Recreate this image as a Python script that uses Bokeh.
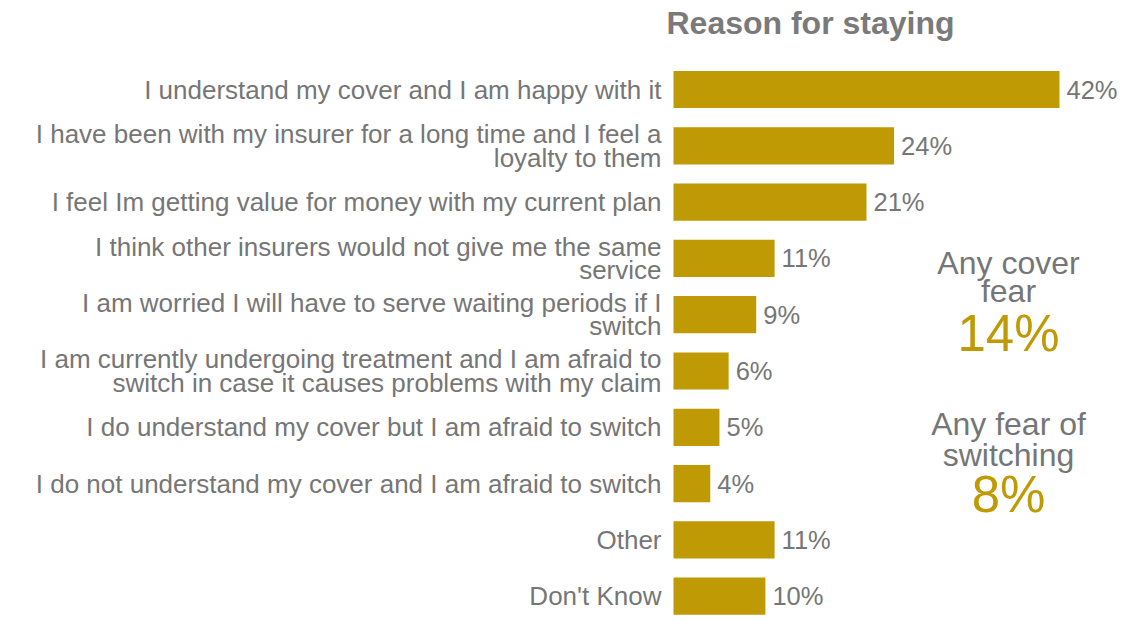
from bokeh.plotting import figure
from bokeh.models import ColumnDataSource, Range1d, Label
from bokeh.embed import file_html
from bokeh.resources import INLINE
from bokeh.core.properties import value

# ---- data ----
categories = [
    "I understand my cover and I am happy with it",
    "I have been with my insurer for a long time and I feel a\nloyalty to them",
    "I feel Im getting value for money with my current plan",
    "I think other insurers would not give me the same\nservice",
    "I am worried I will have to serve waiting periods if I\nswitch",
    "I am currently undergoing treatment and I am afraid to\nswitch in case it causes problems with my claim",
    "I do understand my cover but I am afraid to switch",
    "I do not understand my cover and I am afraid to switch",
    "Other",
    "Don't Know",
]
values = [42, 24, 21, 11, 9, 6, 5, 4, 11, 10]
chart_title = "Reason for staying"
summary_titles = [["Any cover", "fear"], ["Any fear of", "switching"]]
summary_values = ["14%", "8%"]

# ---- style ----
GOLD = "#BF9A05"
GRAY = "#767676"
FONT = "Liberation Sans"
W, H = 1140, 618
PX_PER_UNIT = 9.19
X0_PX = 673
ROW_TOP = 89
ROW_STEP = 56.3
LABEL_SIZE = 26
VALUE_SIZE = 25.5
LINE_H = 23.5

idx = list(range(len(categories)))
bars = ColumnDataSource(dict(
    y=idx, v=values, lbl=[f"{v}%" for v in values],
))

# label lines, each line drawn separately so they are right aligned
ly, lt, loff = [], [], []
for i, c in enumerate(categories):
    lines = c.split("\n")
    n = len(lines)
    for k, line in enumerate(lines):
        ly.append(i)
        lt.append(line)
        loff.append((k - (n - 1) / 2) * LINE_H)
labels = ColumnDataSource(dict(y=ly, t=lt, off=loff, x=[0] * len(ly)))

x_start = -X0_PX / PX_PER_UNIT
x_end = (W - X0_PX) / PX_PER_UNIT
y_top = -ROW_TOP / ROW_STEP
y_bot = (H - ROW_TOP) / ROW_STEP

p = figure(width=W, height=H, output_backend="svg", toolbar_location=None,
           x_range=Range1d(x_start, x_end), y_range=Range1d(y_bot, y_top),
           min_border=0, min_border_left=0, min_border_right=0,
           min_border_top=0, min_border_bottom=0)
p.axis.visible = False
p.grid.visible = False
p.outline_line_color = None
p.background_fill_color = "white"
p.border_fill_color = "white"

p.hbar(y="y", left=0, right="v", height=0.66, source=bars,
       fill_color=GOLD, line_color=None)

p.text(x="v", y="y", text="lbl", source=bars, x_offset=7,
       text_align="left", text_baseline="middle",
       text_font=value(FONT), text_font_size=f"{VALUE_SIZE}px", text_color=GRAY)

p.text(x="x", y="y", text="t", source=labels, x_offset=-12, y_offset="off",
       text_align="right", text_baseline="middle",
       text_font=value(FONT), text_font_size=f"{LABEL_SIZE}px", text_color=GRAY)

# title
p.add_layout(Label(x=810, y=H - 22, x_units="screen", y_units="screen",
                   text=chart_title, text_align="center", text_baseline="middle",
                   text_font=FONT, text_font_size="32px", text_font_style="bold",
                   text_color="#7A7A7A"))

# summary annotations (positions measured from the top of the picture)
CX = 1008
title_tops = [[262, 290], [423, 454]]
value_tops = [333, 494]
for lines, tops, val, vt in zip(summary_titles, title_tops, summary_values, value_tops):
    for line, t in zip(lines, tops):
        p.add_layout(Label(x=CX, y=H - t, x_units="screen", y_units="screen",
                           text=line, text_align="center", text_baseline="middle",
                           text_font=FONT, text_font_size="32px", text_color=GRAY))
    p.add_layout(Label(x=CX, y=H - vt, x_units="screen", y_units="screen",
                       text=val, text_align="center", text_baseline="middle",
                       text_font=FONT, text_font_size="51px", text_color=GOLD))

open("out.html", "w").write(file_html(p, INLINE))
